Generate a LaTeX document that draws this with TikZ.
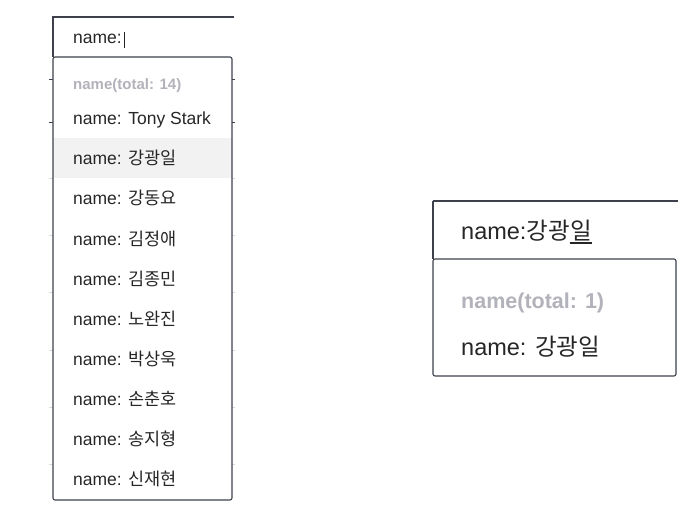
\documentclass[tikz,border=0pt]{standalone}
\usepackage{fontspec}
\setmainfont{Liberation Sans}
\newfontfamily\krfont{Noto Sans CJK KR}
\usepackage{tikz}
\usetikzlibrary{positioning,calc}
\definecolor{edge}{HTML}{3E414C}
\definecolor{ink}{HTML}{262626}
\definecolor{hint}{HTML}{B2B2BA}
\definecolor{hover}{HTML}{F2F2F2}
\definecolor{tickgray}{HTML}{DADADA}
\tikzset{item/.style={anchor=base west,inner sep=0pt,text=ink,font=\fontsize{17.5}{20}\selectfont},
         head/.style={anchor=base west,inner sep=0pt,text=hint,font=\fontsize{15}{18}\selectfont\bfseries},
         bigitem/.style={anchor=base west,inner sep=0pt,text=ink,font=\fontsize{23.5}{26}\selectfont},
         bighead/.style={anchor=base west,inner sep=0pt,text=hint,font=\fontsize{21.5}{24}\selectfont\bfseries},
         frame/.style={draw=edge,line width=1.1pt}}

\begin{document}
\begin{tikzpicture}[x=1pt,y=-1pt]
            \useasboundingbox (0,0) rectangle (700,526);
            % left: full list
            \fill[hover] (53,138) rectangle (232,178);
            \foreach \yy in {80,123}
                {\draw[edge,line width=1pt] (49,\yy) -- (53,\yy);
                 \draw[edge,line width=1pt] (232,\yy) -- (235,\yy);}
            \foreach \yy in {178,235,292,350,407,464}
                {\draw[tickgray,line width=0.8pt] (49,\yy) -- (53,\yy);
                 \draw[tickgray,line width=0.8pt] (232,\yy) -- (235,\yy);}
            \draw[frame] (234,17) -- (53,17) -- (53,57);
            \draw[frame,rounded corners=2pt] (53,57) -- (232,57) -- (232,500) -- (53,500) -- cycle;
            \node[item] (query) at (73,44) {name:};
            \draw[ink,line width=1pt] ([xshift=2pt,yshift=-4pt]query.base east) -- ([xshift=2pt,yshift=12pt]query.base east);
            \node[head] (total) at (73,90) {name(total: 14)};
            \node[item] (row0) at (73,125) {name: Tony Stark};
            \foreach \nm [count=\i] in {강광일,강동요,김정애,김종민,노완진,박상욱,손춘호,송지형,신재현}
                \node[item] (row\i) at (73,{125+40*\i}) {name: {\krfont \nm}};
            % right: filtered list
            \draw[edge,line width=1.8pt] (678,201) -- (433,201);
            \draw[frame] (433,201) -- (433,259);
            \draw[frame,rounded corners=2pt] (433,259) -- (676,259) -- (676,376) -- (433,376) -- cycle;
            \node[bigitem] (typed) at (461,240) {name:{\krfont 강광}};
            \node[bigitem] (ime) at (typed.base east) {\krfont 일};
            \draw[ink,line width=2pt] ([yshift=-3pt]ime.base west) -- ([yshift=-3pt]ime.base east);
            \node[bighead] (found) at (461,308) {name(total: 1)};
            \node[bigitem] (hit) at (461,355) {name: {\krfont 강광일}};
        \end{tikzpicture}
\end{document}
